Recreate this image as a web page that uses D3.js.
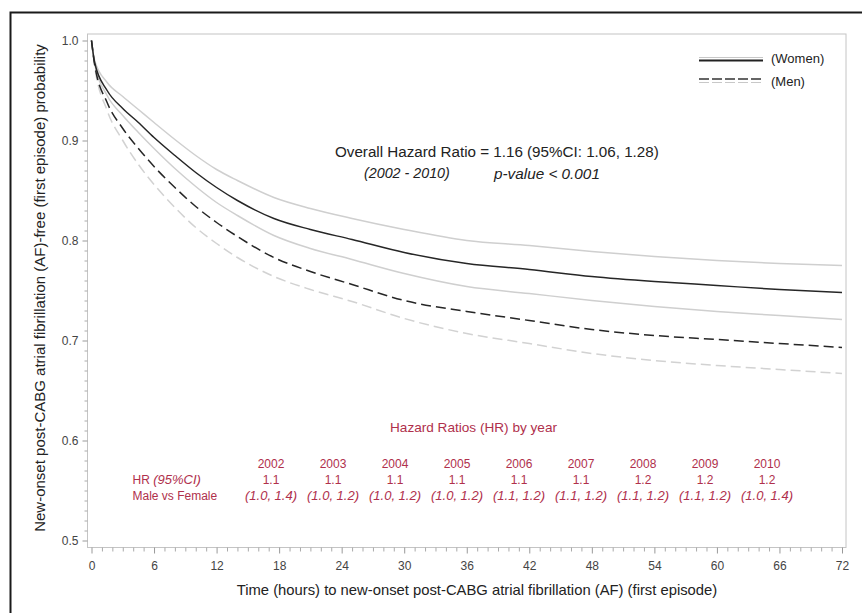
<!DOCTYPE html>
<html>
<head>
<meta charset="utf-8">
<script src="https://cdn.jsdelivr.net/npm/d3@7"></script>
<style>
    * { margin: 0; padding: 0; box-sizing: border-box; }
    body { background: #fff; width: 862px; height: 613px; overflow: hidden; }
    svg { display: block; font-family: "Liberation Sans", Arial, sans-serif; }
    .tick-label { fill: #444; font-size: 12px; }
    .hr-text { fill: #b0304c; font-size: 12px; }
    .hr-ci { font-size: 13px; font-style: italic; }
    .hr-title { font-size: 13.6px; }
</style>
</head>
<body>
<svg id="chart" width="862" height="613"></svg>
<script>
const timeHours = [0, 0.3, 1.5, 3, 4.5, 6, 8, 10, 12, 14, 17.5, 21, 25, 30, 36, 42, 48, 54, 60, 66, 72];

const women      = [1.0, 0.978, 0.950, 0.932, 0.918, 0.903, 0.885, 0.868, 0.853, 0.840, 0.822, 0.811, 0.801, 0.788, 0.777, 0.771, 0.764, 0.759, 0.755, 0.751, 0.748];
const womenUpper = [1.0, 0.980, 0.958, 0.944, 0.931, 0.918, 0.901, 0.885, 0.871, 0.860, 0.843, 0.832, 0.822, 0.811, 0.800, 0.795, 0.789, 0.784, 0.780, 0.777, 0.775];
const womenLower = [1.0, 0.977, 0.945, 0.925, 0.908, 0.892, 0.872, 0.854, 0.838, 0.825, 0.805, 0.792, 0.781, 0.767, 0.754, 0.747, 0.740, 0.734, 0.729, 0.725, 0.721];
const men        = [1.0, 0.976, 0.938, 0.912, 0.892, 0.874, 0.853, 0.834, 0.818, 0.804, 0.783, 0.769, 0.756, 0.740, 0.729, 0.720, 0.711, 0.705, 0.701, 0.697, 0.693];
const menLower   = [1.0, 0.975, 0.930, 0.900, 0.876, 0.856, 0.833, 0.813, 0.797, 0.783, 0.764, 0.751, 0.739, 0.722, 0.707, 0.697, 0.687, 0.680, 0.675, 0.671, 0.667];

const xTicks = [0, 6, 12, 18, 24, 30, 36, 42, 48, 54, 60, 66, 72];
const yTicks = [0.5, 0.6, 0.7, 0.8, 0.9, 1.0];

const years = ['2002', '2003', '2004', '2005', '2006', '2007', '2008', '2009', '2010'];
const hrValues = ['1.1', '1.1', '1.1', '1.1', '1.1', '1.1', '1.2', '1.2', '1.2'];
const hrCI = ['(1.0, 1.4)', '(1.0, 1.2)', '(1.0, 1.2)', '(1.0, 1.2)', '(1.1, 1.2)', '(1.1, 1.2)', '(1.1, 1.2)', '(1.1, 1.2)', '(1.0, 1.4)'];

const svg = d3.select('#chart');

// outer black frame (runs off the right and bottom edge)
svg.append('rect')
    .attr('x', 10.5).attr('y', 12.5)
    .attr('width', 870).attr('height', 620)
    .attr('fill', 'none').attr('stroke', '#1a1a1a').attr('stroke-width', 2);

const x = d3.scaleLinear().domain([0, 72]).range([91.5, 842]);
const y = d3.scaleLinear().domain([0.5, 1.0]).range([540.5, 40.5]);

const frame = { left: 87.5, right: 846, top: 34, bottom: 547.5 };

svg.append('rect')
    .attr('x', frame.left).attr('y', frame.top)
    .attr('width', frame.right - frame.left).attr('height', frame.bottom - frame.top)
    .attr('fill', 'none').attr('stroke', '#c4c4c4').attr('stroke-width', 1);

// x axis
const xAxis = d3.axisBottom(x).tickValues(xTicks).tickSize(6).tickPadding(8).tickFormat(d3.format('d'));
const xg = svg.append('g').attr('transform', `translate(0,${frame.bottom})`).call(xAxis);
xg.select('.domain').remove();
xg.selectAll('.tick line').attr('stroke', '#999');
xg.selectAll('.tick text').attr('class', 'tick-label').attr('font-family', null).attr('font-size', null);

const xMinor = d3.axisBottom(x).tickValues(d3.range(0, 73, 1).filter(d => d % 6)).tickSize(4).tickFormat('');
const xmg = svg.append('g').attr('transform', `translate(0,${frame.bottom})`).call(xMinor);
xmg.select('.domain').remove();
xmg.selectAll('.tick line').attr('stroke', '#aaa');

// y axis
const yAxis = d3.axisLeft(y).tickValues(yTicks).tickSize(5).tickPadding(4).tickFormat(d3.format('.1f'));
const yg = svg.append('g').attr('transform', `translate(${frame.left},0)`).call(yAxis);
yg.select('.domain').remove();
yg.selectAll('.tick line').attr('stroke', '#999');
yg.selectAll('.tick text').attr('class', 'tick-label').attr('font-family', null).attr('font-size', null);

const yMinor = d3.axisLeft(y).tickValues(d3.range(50, 101, 1).filter(d => d % 10).map(d => d / 100)).tickSize(3).tickFormat('');
const ymg = svg.append('g').attr('transform', `translate(${frame.left},0)`).call(yMinor);
ymg.select('.domain').remove();
ymg.selectAll('.tick line').attr('stroke', '#aaa');

// axis titles
svg.append('text')
    .attr('transform', 'translate(45,288) rotate(-90)')
    .attr('text-anchor', 'middle')
    .attr('font-size', 15).attr('fill', '#222')
    .text('New-onset post-CABG atrial fibrillation (AF)-free (first episode) probability');

svg.append('text')
    .attr('x', 477).attr('y', 595)
    .attr('text-anchor', 'middle')
    .attr('font-size', 14.8).attr('fill', '#222')
    .text('Time (hours) to new-onset post-CABG atrial fibrillation (AF) (first episode)');

// survival curves
const line = d3.line()
    .x((d, i) => x(timeHours[i]))
    .y(d => y(d))
    .curve(d3.curveMonotoneX);

const curves = [
    { values: womenUpper, stroke: '#cfcfcf', dash: null, width: 1.5 },
    { values: womenLower, stroke: '#cfcfcf', dash: null, width: 1.5 },
    { values: menLower, stroke: '#d2d2d2', dash: '10,5', width: 1.5 },
    { values: women, stroke: '#262626', dash: null, width: 1.5 },
    { values: men, stroke: '#262626', dash: '10,5', width: 1.5 },
];

svg.append('g').selectAll('path')
    .data(curves)
    .enter()
    .append('path')
    .attr('d', d => line(d.values))
    .attr('fill', 'none')
    .attr('stroke', d => d.stroke)
    .attr('stroke-width', d => d.width)
    .attr('stroke-dasharray', d => d.dash);

// legend
const legend = svg.append('g');
legend.append('line').attr('x1', 699).attr('x2', 763).attr('y1', 57.5).attr('y2', 57.5).attr('stroke', '#c8c8c8').attr('stroke-width', 1.2);
legend.append('line').attr('x1', 699).attr('x2', 763).attr('y1', 60.5).attr('y2', 60.5).attr('stroke', '#222').attr('stroke-width', 1.8);
legend.append('line').attr('x1', 699).attr('x2', 763).attr('y1', 79).attr('y2', 79).attr('stroke', '#333').attr('stroke-width', 1.4).attr('stroke-dasharray', '10,3');
legend.append('line').attr('x1', 699).attr('x2', 763).attr('y1', 82.5).attr('y2', 82.5).attr('stroke', '#c8c8c8').attr('stroke-width', 1.2).attr('stroke-dasharray', '10,3');
legend.append('text').attr('x', 771).attr('y', 62.5).attr('font-size', 13).attr('fill', '#222').text('(Women)');
legend.append('text').attr('x', 771).attr('y', 85.5).attr('font-size', 13).attr('fill', '#222').text('(Men)');

// overall hazard ratio annotation
svg.append('text').attr('x', 335).attr('y', 157).attr('font-size', 15.2).attr('fill', '#222')
    .text('Overall Hazard Ratio = 1.16 (95%CI: 1.06, 1.28)');
svg.append('text').attr('x', 364).attr('y', 178).attr('font-size', 14.3).attr('font-style', 'italic').attr('fill', '#222')
    .text('(2002 - 2010)');
svg.append('text').attr('x', 494).attr('y', 178.5).attr('font-size', 15.3).attr('font-style', 'italic').attr('fill', '#222')
    .text('p-value < 0.001');

// hazard ratios by year
svg.append('text').attr('class', 'hr-text hr-title').attr('x', 473.5).attr('y', 432)
    .attr('text-anchor', 'middle')
    .text('Hazard Ratios (HR) by year');

const col = d3.scalePoint().domain(years).range([271, 767]);

const hrLabel = svg.append('text').attr('class', 'hr-text').attr('x', 132.5).attr('y', 484);
hrLabel.append('tspan').text('HR ');
hrLabel.append('tspan').attr('class', 'hr-ci').text('(95%CI)');
svg.append('text').attr('class', 'hr-text').attr('x', 132.5).attr('y', 499.5).text('Male vs Female');

const cols = svg.append('g').selectAll('g')
    .data(years)
    .enter()
    .append('g')
    .attr('transform', d => `translate(${col(d)},0)`)
    .attr('text-anchor', 'middle');

cols.append('text').attr('class', 'hr-text').attr('y', 468).text(d => d);
cols.append('text').attr('class', 'hr-text').attr('y', 484).text((d, i) => hrValues[i]);
cols.append('text').attr('class', 'hr-text hr-ci').attr('y', 499.5).text((d, i) => hrCI[i]);
</script>
</body>
</html>
